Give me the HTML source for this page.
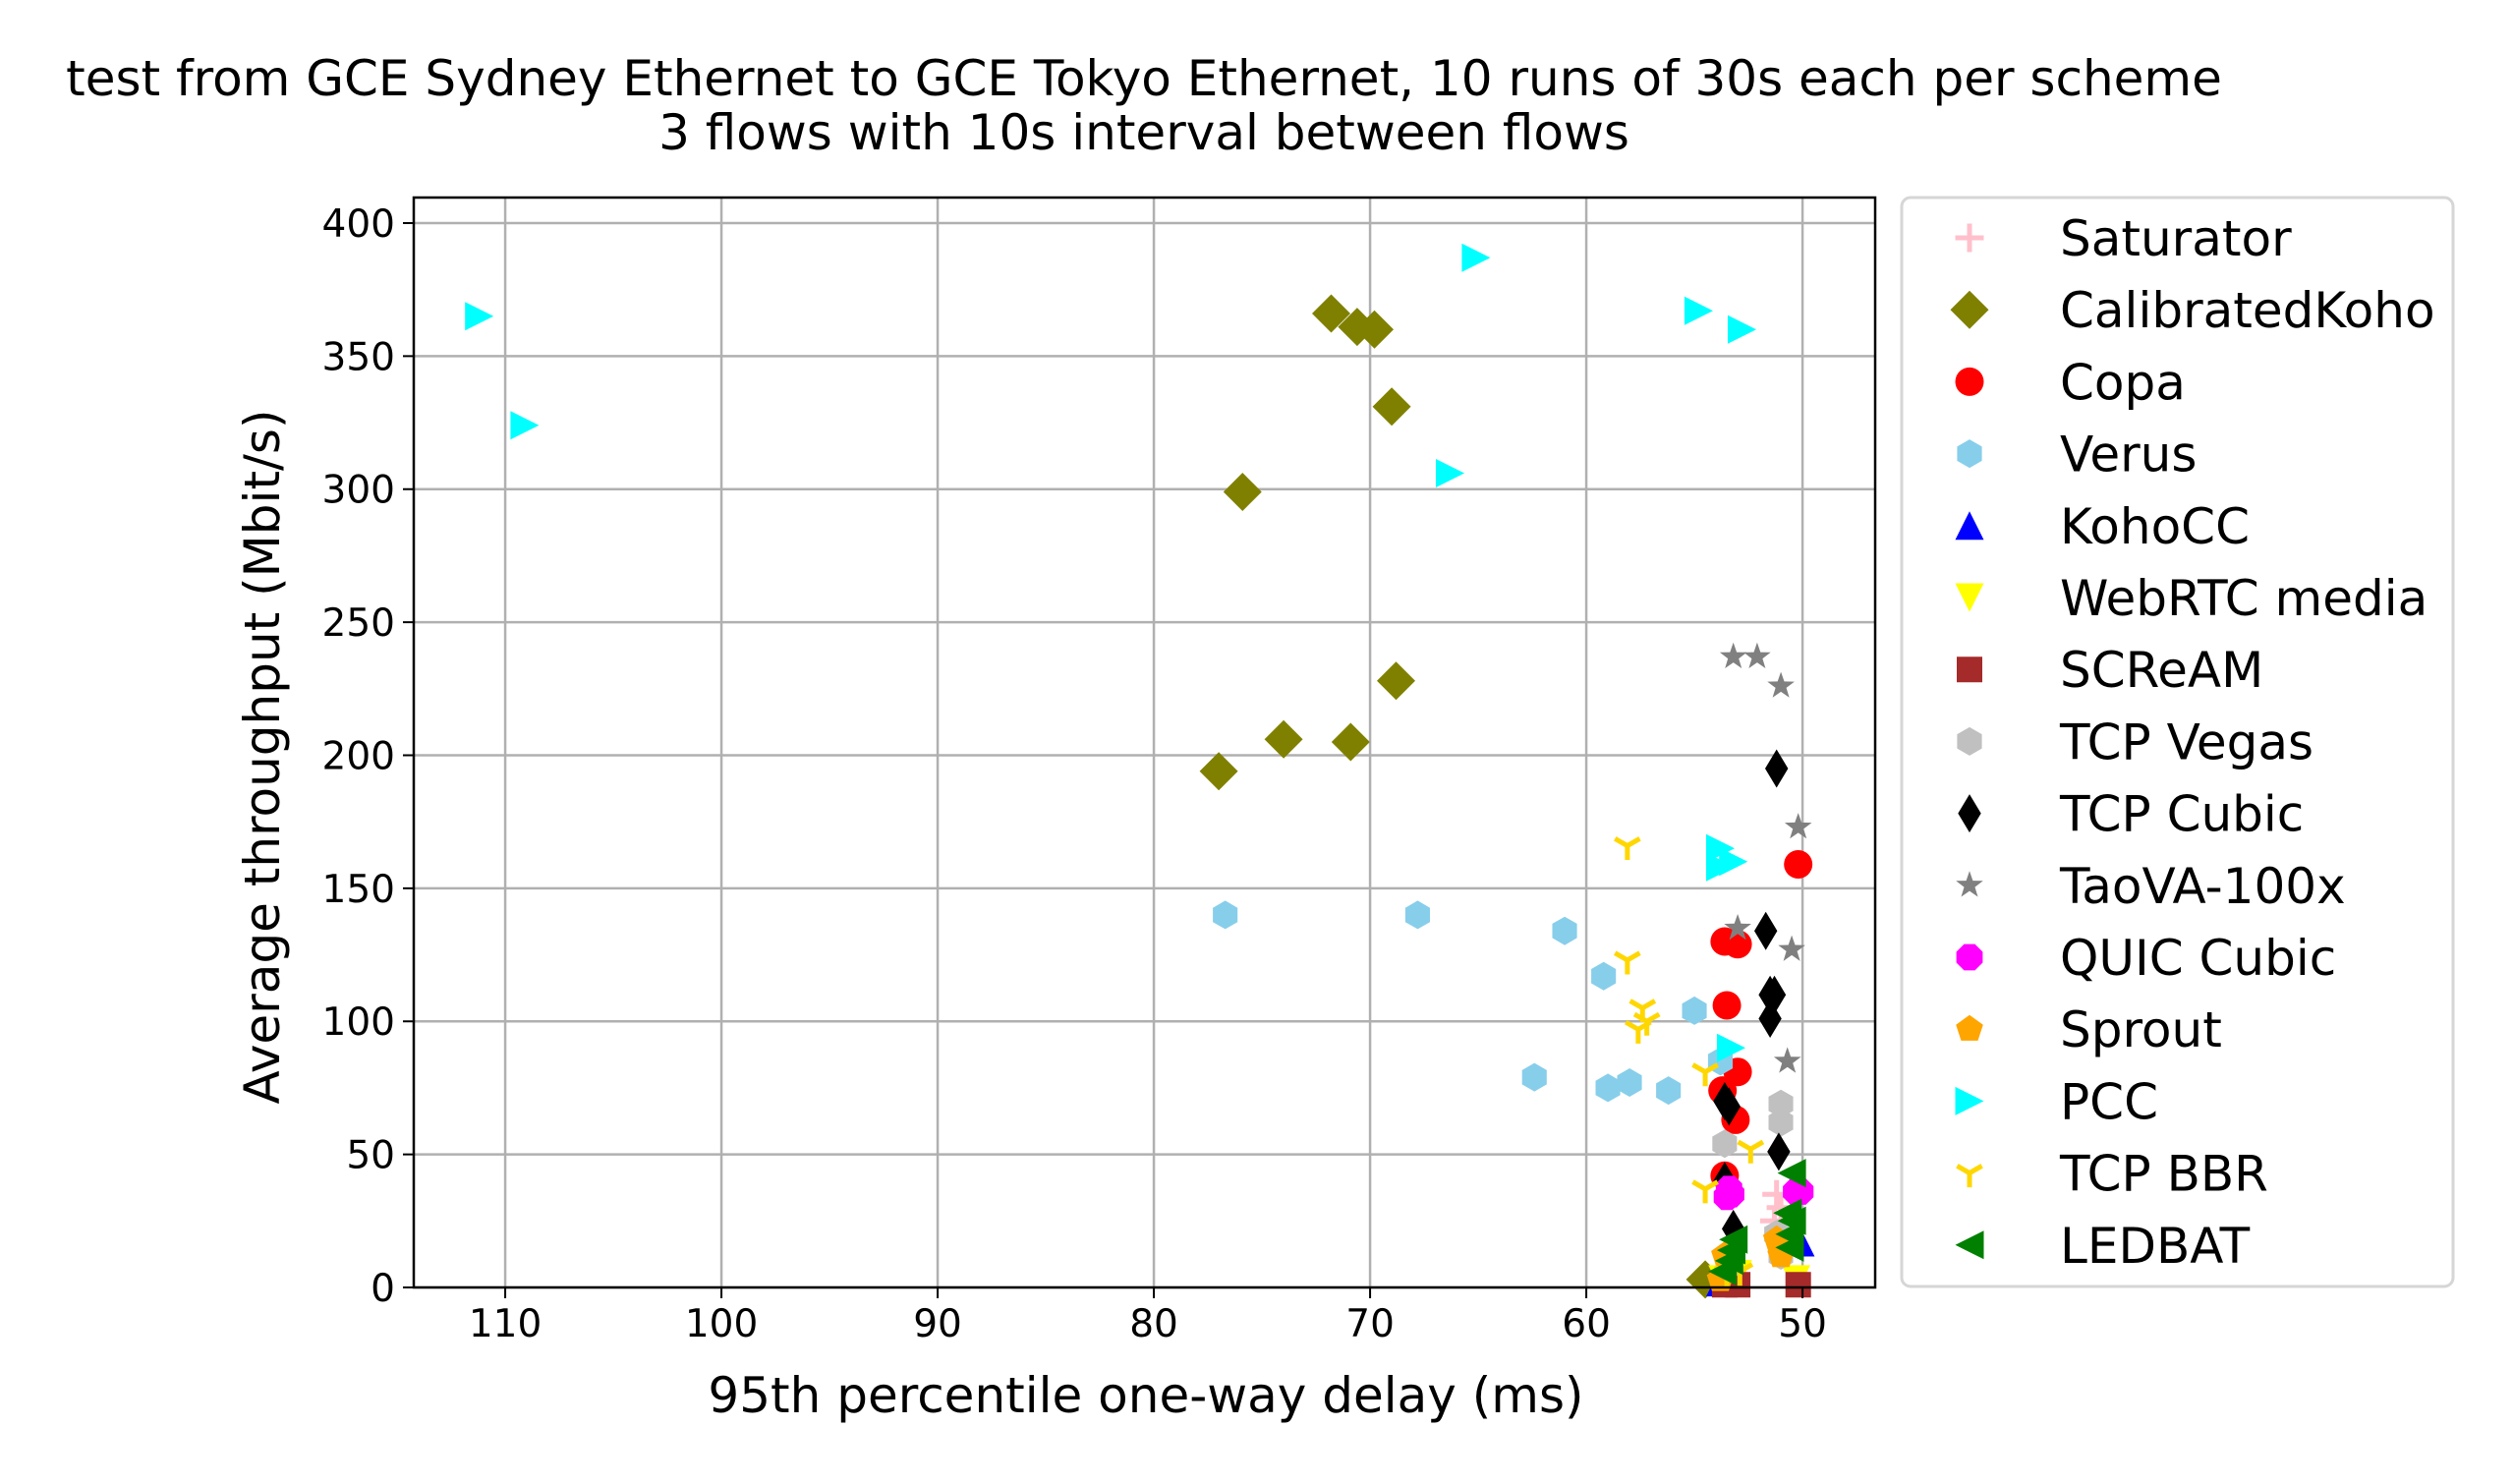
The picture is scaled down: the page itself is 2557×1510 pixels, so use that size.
<!DOCTYPE html>
<html><head><meta charset="utf-8"><style>
body{margin:0;background:#fff;}
svg text{font-family:"DejaVu Sans","Liberation Sans",sans-serif;}
</style></head><body>
<svg id="chart" width="2557" height="1505" viewBox="0 0 2557 1505" xmlns="http://www.w3.org/2000/svg">
<rect width="2557" height="1505" fill="#fff"/>
<text x="1164" y="97" font-size="50" text-anchor="middle">test from GCE Sydney Ethernet to GCE Tokyo Ethernet, 10 runs of 30s each per scheme</text>
<text x="1164" y="152" font-size="50" text-anchor="middle">3 flows with 10s interval between flows</text>
<g id="grid"></g><g id="marks"></g><g id="axes"></g><g id="legend"></g>
<text x="1166" y="1437" font-size="50" text-anchor="middle">95th percentile one-way delay (ms)</text>
<text x="0" y="0" font-size="50" text-anchor="middle" transform="translate(284,770) rotate(-90)">Average throughput (Mbit/s)</text>
</svg>
<script>
const xTicks=[110,100,90,80,70,60,50];
const yTicks=[0,50,100,150,200,250,300,350,400];
const names=["Saturator","CalibratedKoho","Copa","Verus","KohoCC","WebRTC media","SCReAM","TCP Vegas","TCP Cubic","TaoVA-100x","QUIC Cubic","Sprout","PCC","TCP BBR","LEDBAT"];
const colors=["pink","olive","red","skyblue","blue","yellow","brown","silver","black","gray","magenta","orange","cyan","gold","green"];
const shapes=["plus","D","o","h","^","v","s","h","d","*","8","p",">","1","<"];
const saturatorX=[51.2,51.0,51.3],saturatorY=[35,30,25];
const kohoX=[71.8,70.6,69.8,69.0,75.9,68.8,74.0,70.9,77.0,54.5],kohoY=[366,361,360,331,299,228,206,205,194,3];
const copaX=[50.2,53.6,53.0,53.5,53.0,53.7,53.1,53.6],copaY=[159,130,129,106,81,74,63,42];
const verusX=[76.7,67.8,61.0,59.2,55.0,62.4,59.0,58.0,56.2,53.8],verusY=[140,140,134,117,104,79,75,77,74,85];
const kohoccX=[50.1,53.8],kohoccY=[17,2];
const webrtcX=[53.7,50.3,53.0],webrtcY=[3,3,5];
const screamX=[53.6,53.0,50.2],screamY=[1,1,1];
const vegasX=[51.0,51.0,53.6,51.2,51.0,53.4],vegasY=[69,62,54,20,12,8];
const cubicX=[51.2,51.7,51.5,51.3,51.5,53.6,51.1,53.2,53.6,53.4],cubicY=[195,134,110,110,101,70,51,22,40,68];
const taovaX=[53.2,52.1,51.0,50.2,50.5,53.0,50.7],taovaY=[237,237,226,173,127,135,85];
const quicX=[53.4,53.3,53.5,50.1,50.3],quicY=[37,35,34,36,36];
const sproutX=[53.6,51.2,51.0,53.8],sproutY=[12,18,12,3];
const pccX=[111.2,109.1,65.1,66.3,54.8,52.8,53.8,53.8,53.2,53.3],pccY=[365,324,387,306,367,360,165,158,160,90];
const bbrX=[58.1,58.1,57.4,57.6,57.2,54.5,52.4,54.5,53.5,52.9],bbrY=[166,123,105,97,100,81,52,37,5,6];
const ledbatX=[50.5,50.5,50.6,50.6,53.3,53.4,53.7,53.2,50.7],ledbatY=[43,25,20,15,14,10,6,18,28];
const seriesX=[saturatorX,kohoX,copaX,verusX,kohoccX,webrtcX,screamX,vegasX,cubicX,taovaX,quicX,sproutX,pccX,bbrX,ledbatX];
const seriesY=[saturatorY,kohoY,copaY,verusY,kohoccY,webrtcY,screamY,vegasY,cubicY,taovaY,quicY,sproutY,pccY,bbrY,ledbatY];

const L=421,R=1908,T=201,B=1310;
const X0=114.23,X1=46.64,Y0=0,Y1=409.6;
const sx=v=>L+(v-X0)/(X1-X0)*(R-L);
const sy=v=>B-(v-Y0)/(Y1-Y0)*(B-T);
const NS="http://www.w3.org/2000/svg";
function mk(tag,attrs,parent){const e=document.createElementNS(NS,tag);for(const k in attrs)e.setAttribute(k,attrs[k]);parent.appendChild(e);return e;}
function poly(pts){return pts.map(p=>p[0].toFixed(1)+","+p[1].toFixed(1)).join(" ");}
function marker(shape,color,cx,cy,parent){
  const r=14.5;let e;
  if(shape==="o"){e=mk("circle",{cx:cx,cy:cy,r:r,fill:color},parent);}
  else if(shape==="plus"){e=mk("path",{d:`M${cx-r} ${cy}H${cx+r}M${cx} ${cy-r}V${cy+r}`,stroke:color,"stroke-width":5,fill:"none"},parent);}
  else if(shape==="1"){e=mk("path",{d:`M${cx} ${cy}V${cy+r}M${cx} ${cy}L${cx-r*0.87} ${cy-r*0.5}M${cx} ${cy}L${cx+r*0.87} ${cy-r*0.5}`,stroke:color,"stroke-width":5,fill:"none"},parent);}
  else{
    let pts=[];
    if(shape==="D"){const d=19.5;pts=[[cx,cy-d],[cx+d,cy],[cx,cy+d],[cx-d,cy]];}
    else if(shape==="d"){const d=19.5;pts=[[cx,cy-d],[cx+d*0.6,cy],[cx,cy+d],[cx-d*0.6,cy]];}
    else if(shape==="s"){const d=13;pts=[[cx-d,cy-d],[cx+d,cy-d],[cx+d,cy+d],[cx-d,cy+d]];}
    else if(shape==="h"){for(let i=0;i<6;i++){const a=Math.PI/2+i*Math.PI/3;pts.push([cx+r*Math.cos(a),cy-r*Math.sin(a)]);}}
    else if(shape==="8"){for(let i=0;i<8;i++){const a=Math.PI/8+i*Math.PI/4;pts.push([cx+r*Math.cos(a),cy-r*Math.sin(a)]);}}
    else if(shape==="p"){for(let i=0;i<5;i++){const a=Math.PI/2+i*2*Math.PI/5;pts.push([cx+r*Math.cos(a),cy-r*Math.sin(a)]);}}
    else if(shape==="*"){for(let i=0;i<10;i++){const a=Math.PI/2+i*Math.PI/5;const rr=i%2?r*0.4:r;pts.push([cx+rr*Math.cos(a),cy-rr*Math.sin(a)]);}}
    else if(shape==="^"){pts=[[cx,cy-r],[cx+r,cy+r],[cx-r,cy+r]];}
    else if(shape==="v"){pts=[[cx,cy+r],[cx+r,cy-r],[cx-r,cy-r]];}
    else if(shape===">"){pts=[[cx+r,cy],[cx-r,cy-r],[cx-r,cy+r]];}
    else if(shape==="<"){pts=[[cx-r,cy],[cx+r,cy-r],[cx+r,cy+r]];}
    e=mk("polygon",{points:poly(pts),fill:color},parent);
  }
  return e;
}
const grid=document.getElementById("grid"),axes=document.getElementById("axes"),marks=document.getElementById("marks"),legend=document.getElementById("legend");
xTicks.forEach(t=>{const x=sx(t);
  const g=mk("line",{x1:x,x2:x,y1:T,y2:B,stroke:"#b0b0b0","stroke-width":2.5},grid);
  
  
  mk("line",{x1:x,x2:x,y1:B,y2:B+11,stroke:"#000","stroke-width":2},axes);
  const tx=mk("text",{x:x,y:B+50,"font-size":39,"text-anchor":"middle"},axes);tx.textContent=t;
  
  
});
yTicks.forEach(t=>{const y=sy(t);
  const g=mk("line",{x1:L,x2:R,y1:y,y2:y,stroke:"#b0b0b0","stroke-width":2.5},grid);
  
  
  mk("line",{x1:L-11,x2:L,y1:y,y2:y,stroke:"#000","stroke-width":2},axes);
  const tx=mk("text",{x:L-19,y:y+14,"font-size":39,"text-anchor":"end"},axes);tx.textContent=t;
  
  
});
const frame=mk("rect",{x:L,y:T,width:R-L,height:B-T,fill:"none",stroke:"#000","stroke-width":2.5},axes);


names.forEach((n,i)=>{
  const g=mk("g",{},marks);
  
  
  seriesX[i].forEach((xv,j)=>{
    const m=marker(shapes[i],colors[i],sx(xv),sy(seriesY[i][j]),g);
    
    
  });
});
const lb=mk("rect",{x:1935,y:201,width:561,height:1108,rx:9,fill:"#fff",stroke:"#d6d6d6","stroke-width":3},legend);


names.forEach((n,i)=>{
  const y=242+i*73.2;
  const g=mk("g",{},legend);
  
  
  marker(shapes[i],colors[i],2004,y,g);
  const t=mk("text",{x:2096,y:y+18,"font-size":50},g);t.textContent=n;
});
</script>
</body></html>
